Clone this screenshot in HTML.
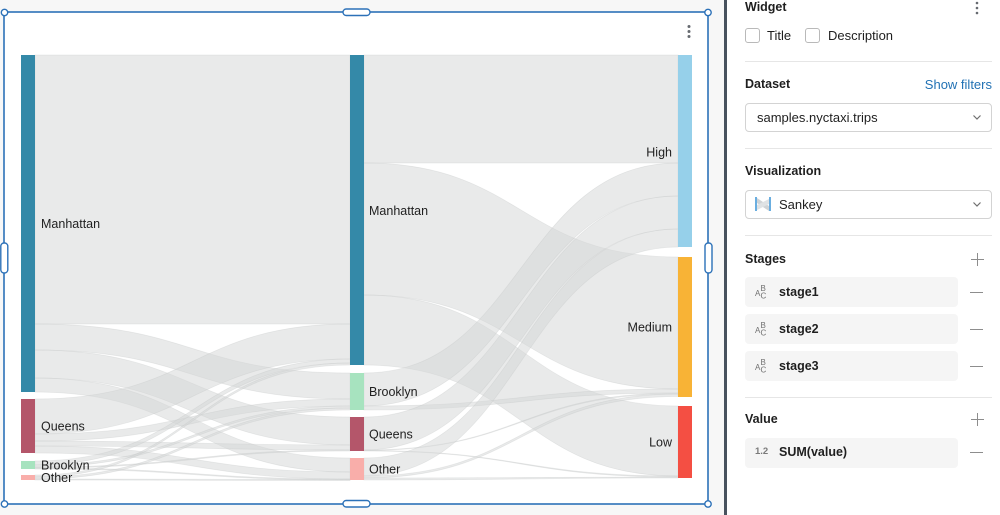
<!DOCTYPE html>
<html>
<head>
<meta charset="utf-8">
<style>
  html, body { margin:0; padding:0; }
  body { width:1000px; height:515px; overflow:hidden; background:#ffffff; position:relative;
         font-family:"Liberation Sans", Arial, sans-serif; color:#1f1f1f; }
  .abs { position:absolute; }
  .leftbg { left:0; top:0; width:724px; height:515px; background:#f7f7f7; }
  .darkbar { left:724px; top:0; width:3px; height:515px; background:#48525e; }
  .panel { left:727px; top:0; width:273px; height:515px; background:#ffffff; }
  .h { font-weight:bold; font-size:12.5px; color:#1f1f1f; }
  .t { font-size:13px; color:#1f1f1f; }
  .sep { height:1px; background:#e6e6e6; left:745px; width:247px; }
  .cb { width:13px; height:13px; border:1px solid #b9b9b9; border-radius:3px; background:#fff; }
  .sel { left:745px; width:245px; height:27px; border:1px solid #d3d3d3; border-radius:4px; background:#fff; }
  .row { left:745px; width:213px; height:30px; background:#f5f5f5; border-radius:4px; }
  .rowtxt { font-weight:bold; font-size:12.5px; color:#1f1f1f; }
  .minus { left:970px; width:13px; height:1.5px; background:#8d8d8d; }
  .plusv { width:1.5px; height:13px; background:#8d8d8d; }
  .plush { width:13px; height:1.5px; background:#8d8d8d; }
</style>
</head>
<body>
<div class="abs leftbg"></div>
<div class="abs darkbar"></div>
<div class="abs panel"></div>

<svg class="abs" style="left:0;top:0" width="724" height="515" viewBox="0 0 724 515" xmlns="http://www.w3.org/2000/svg">
  <rect x="4" y="12" width="704" height="492" fill="#ffffff"/>
  <!-- links stage1 -> stage2 -->
  <g fill="#d3d5d5" fill-opacity="0.5" stroke="#c4c6c6" stroke-opacity="0.35" stroke-width="0.7">
    <path d="M35,55 C192.5,55 192.5,55 350,55 L350,324 C192.5,324 192.5,324 35,324 Z"/>
    <path d="M35,324 C192.5,324 192.5,373 350,373 L350,399 C192.5,399 192.5,350 35,350 Z"/>
    <path d="M35,350 C192.5,350 192.5,417 350,417 L350,445 C192.5,445 192.5,378 35,378 Z"/>
    <path d="M35,378 C192.5,378 192.5,458 350,458 L350,472 C192.5,472 192.5,392 35,392 Z"/>
    <path d="M35,399 C192.5,399 192.5,324 350,324 L350,359 C192.5,359 192.5,434 35,434 Z"/>
    <path d="M35,434 C192.5,434 192.5,399 350,399 L350,406 C192.5,406 192.5,441 35,441 Z"/>
    <path d="M35,441 C192.5,441 192.5,445 350,445 L350,450 C192.5,450 192.5,446 35,446 Z"/>
    <path d="M35,446 C192.5,446 192.5,472 350,472 L350,479 C192.5,479 192.5,453 35,453 Z"/>
    <path d="M35,461 C192.5,461 192.5,359 350,359 L350,363 C192.5,363 192.5,465 35,465 Z"/>
    <path d="M35,465 C192.5,465 192.5,406 350,406 L350,408 C192.5,408 192.5,467 35,467 Z"/>
    <path d="M35,467 C192.5,467 192.5,450 350,450 L350,451 C192.5,451 192.5,468 35,468 Z"/>
    <path d="M35,468 C192.5,468 192.5,479 350,479 L350,480 C192.5,480 192.5,469 35,469 Z"/>
    <path d="M35,475 C192.5,475 192.5,363 350,363 L350,365 C192.5,365 192.5,477 35,477 Z"/>
    <path d="M35,477 C192.5,477 192.5,408 350,408 L350,410 C192.5,410 192.5,479 35,479 Z"/>
    <path d="M35,479 C192.5,479 192.5,479.5 350,479.5 L350,480.5 C192.5,480.5 192.5,480 35,480 Z"/>
  </g>
  <!-- links stage2 -> stage3 -->
  <g fill="#d3d5d5" fill-opacity="0.5" stroke="#c4c6c6" stroke-opacity="0.35" stroke-width="0.7">
    <path d="M364,55 C521,55 521,55 678,55 L678,163 C521,163 521,163 364,163 Z"/>
    <path d="M364,163 C521,163 521,257 678,257 L678,389 C521,389 521,295 364,295 Z"/>
    <path d="M364,295 C521,295 521,406 678,406 L678,476 C521,476 521,365 364,365 Z"/>
    <path d="M364,373 C521,373 521,163 678,163 L678,196 C521,196 521,406 364,406 Z"/>
    <path d="M364,406 C521,406 521,389 678,389 L678,393 C521,393 521,410 364,410 Z"/>
    <path d="M364,417 C521,417 521,196 678,196 L678,229 C521,229 521,450 364,450 Z"/>
    <path d="M364,450 C521,450 521,393 678,393 L678,394 C521,394 521,450.5 364,450.5 Z"/>
    <path d="M364,450.5 C521,450.5 521,476 678,476 L678,477 C521,477 521,451 364,451 Z"/>
    <path d="M364,458 C521,458 521,229 678,229 L678,247 C521,247 521,476 364,476 Z"/>
    <path d="M364,476 C521,476 521,394 678,394 L678,396.5 C521,396.5 521,478 364,478 Z"/>
    <path d="M364,478 C521,478 521,477 678,477 L678,478 C521,478 521,480 364,480 Z"/>
  </g>
  <!-- nodes -->
  <rect x="21" y="55" width="14" height="337" fill="#3489a8"/>
  <rect x="21" y="399" width="14" height="54" fill="#b4566a"/>
  <rect x="21" y="461" width="14" height="8" fill="#a7e3bf"/>
  <rect x="21" y="475" width="14" height="5" fill="#f9aeaa"/>

  <rect x="350" y="55" width="14" height="310" fill="#3489a8"/>
  <rect x="350" y="373" width="14" height="37" fill="#a7e3bf"/>
  <rect x="350" y="417" width="14" height="34" fill="#b4566a"/>
  <rect x="350" y="458" width="14" height="22" fill="#f9aeaa"/>

  <rect x="678" y="55" width="14" height="192" fill="#96d0ea"/>
  <rect x="678" y="257" width="14" height="140" fill="#f8b336"/>
  <rect x="678" y="406" width="14" height="72" fill="#f44f43"/>

  <!-- labels -->
  <g font-family="Liberation Sans, Arial, sans-serif" font-size="12.5" fill="#1f1f1f">
    <text x="41" y="228">Manhattan</text>
    <text x="41" y="430.5">Queens</text>
    <text x="41" y="469.5">Brooklyn</text>
    <text x="41" y="482">Other</text>
    <text x="369" y="215">Manhattan</text>
    <text x="369" y="396">Brooklyn</text>
    <text x="369" y="438.5">Queens</text>
    <text x="369" y="473.5">Other</text>
    <text x="672" y="156.5" text-anchor="end">High</text>
    <text x="672" y="331.5" text-anchor="end">Medium</text>
    <text x="672" y="446.5" text-anchor="end">Low</text>
  </g>

  <!-- kebab -->
  <g fill="#666a70">
    <circle cx="689" cy="26.5" r="1.5"/>
    <circle cx="689" cy="31.5" r="1.5"/>
    <circle cx="689" cy="36.5" r="1.5"/>
  </g>

  <!-- selection frame -->
  <rect x="4" y="12" width="704" height="492" fill="none" stroke="#2c71b8" stroke-width="1.6"/>
  <g fill="#ffffff" stroke="#2c71b8" stroke-width="1.4">
    <circle cx="4.5" cy="12.5" r="3.2"/>
    <circle cx="708" cy="12.5" r="3.2"/>
    <circle cx="4.5" cy="504" r="3.2"/>
    <circle cx="708" cy="504" r="3.2"/>
    <rect x="343" y="9" width="27" height="6.5" rx="3.2"/>
    <rect x="343" y="500.5" width="27" height="6.5" rx="3.2"/>
    <rect x="705" y="243" width="7" height="30" rx="3.2"/>
    <rect x="0.8" y="243" width="7" height="30" rx="3.2"/>
  </g>
</svg>

<!-- Right panel -->
<div class="abs h" style="left:745px;top:0px;line-height:15px;">Widget</div>
<svg class="abs" style="left:972px;top:1px" width="10" height="14"><g fill="#666a70"><circle cx="5" cy="2" r="1.3"/><circle cx="5" cy="7" r="1.3"/><circle cx="5" cy="12" r="1.3"/></g></svg>

<div class="abs cb" style="left:745px;top:28px;"></div>
<div class="abs t" style="left:767px;top:28px;line-height:15px;">Title</div>
<div class="abs cb" style="left:805px;top:28px;"></div>
<div class="abs t" style="left:828px;top:28px;line-height:15px;">Description</div>

<div class="abs sep" style="top:61px;"></div>

<div class="abs h" style="left:745px;top:77px;line-height:15px;">Dataset</div>
<div class="abs t" style="left:900px;width:92px;text-align:right;top:77px;line-height:15px;color:#2272b4;">Show filters</div>
<div class="abs sel" style="top:103px;"></div>
<div class="abs t" style="left:757px;top:110px;line-height:15px;">samples.nyctaxi.trips</div>
<svg class="abs" style="left:972px;top:114px" width="10" height="7"><polyline points="1.5,1.5 5,5 8.5,1.5" fill="none" stroke="#6f6f6f" stroke-width="1.2"/></svg>

<div class="abs sep" style="top:148px;"></div>

<div class="abs h" style="left:745px;top:164px;line-height:15px;">Visualization</div>
<div class="abs sel" style="top:190px;"></div>
<svg class="abs" style="left:755px;top:196px" width="16" height="16">
  <rect x="0" y="1" width="2" height="14" fill="#6aaee0"/>
  <rect x="14" y="1" width="2" height="14" fill="#6aaee0"/>
  <path d="M2,2 L14,10 L14,15 L2,7 Z" fill="#cfd3d6"/>
  <path d="M2,9 L14,3 L14,8 L2,14 Z" fill="#dfe2e4"/>
</svg>
<div class="abs t" style="left:779px;top:197px;line-height:15px;">Sankey</div>
<svg class="abs" style="left:972px;top:201px" width="10" height="7"><polyline points="1.5,1.5 5,5 8.5,1.5" fill="none" stroke="#6f6f6f" stroke-width="1.2"/></svg>

<div class="abs sep" style="top:235px;"></div>

<div class="abs h" style="left:745px;top:252px;line-height:15px;">Stages</div>
<div class="abs plusv" style="left:976.5px;top:252.5px;"></div>
<div class="abs plush" style="left:970.5px;top:258.5px;"></div>

<div class="abs row" style="top:277px;"></div>
<svg class="abs" style="left:755px;top:284px" width="18" height="16"><g font-family="Liberation Sans, Arial, sans-serif" fill="#707070"><text x="0" y="12" font-size="8">A</text><text x="5.5" y="7" font-size="8">B</text><text x="5.5" y="14.5" font-size="8">C</text></g></svg>
<div class="abs rowtxt" style="left:779px;top:285px;line-height:15px;">stage1</div>
<div class="abs minus" style="top:291.5px;"></div>

<div class="abs row" style="top:314px;"></div>
<svg class="abs" style="left:755px;top:321px" width="18" height="16"><g font-family="Liberation Sans, Arial, sans-serif" fill="#707070"><text x="0" y="12" font-size="8">A</text><text x="5.5" y="7" font-size="8">B</text><text x="5.5" y="14.5" font-size="8">C</text></g></svg>
<div class="abs rowtxt" style="left:779px;top:322px;line-height:15px;">stage2</div>
<div class="abs minus" style="top:328.5px;"></div>

<div class="abs row" style="top:351px;"></div>
<svg class="abs" style="left:755px;top:358px" width="18" height="16"><g font-family="Liberation Sans, Arial, sans-serif" fill="#707070"><text x="0" y="12" font-size="8">A</text><text x="5.5" y="7" font-size="8">B</text><text x="5.5" y="14.5" font-size="8">C</text></g></svg>
<div class="abs rowtxt" style="left:779px;top:359px;line-height:15px;">stage3</div>
<div class="abs minus" style="top:365.5px;"></div>

<div class="abs sep" style="top:397px;"></div>

<div class="abs h" style="left:745px;top:412px;line-height:15px;">Value</div>
<div class="abs plusv" style="left:976.5px;top:412.5px;"></div>
<div class="abs plush" style="left:970.5px;top:418.5px;"></div>

<div class="abs row" style="top:438px;"></div>
<div class="abs" style="left:755px;top:446px;font-size:9.5px;line-height:12px;color:#7a7a7a;font-weight:bold;">1.2</div>
<div class="abs rowtxt" style="left:779px;top:445px;line-height:15px;">SUM(value)</div>
<div class="abs minus" style="top:451.5px;"></div>

</body>
</html>
